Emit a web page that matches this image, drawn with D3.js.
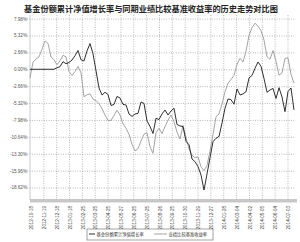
<!DOCTYPE html>
<html><head><meta charset="utf-8">
<script src="https://cdn.jsdelivr.net/npm/d3@7/dist/d3.min.js"></script>
<style>
html,body{margin:0;padding:0;background:#fff;}
svg{display:block;}
</style></head>
<body>
<svg id="c" width="300" height="242"></svg>
<script>
const title = "基金份额累计净值增长率与同期业绩比较基准收益率的历史走势对比图";
const dateLabels = ["2012-10-18","2012-11-19","2012-12-18","2013-01-18","2013-02-25","2013-03-25","2013-04-25","2013-05-27","2013-06-25","2013-07-25","2013-08-26","2013-09-25","2013-10-30","2013-11-29","2013-12-27","2014-01-28","2014-03-04","2014-04-02","2014-05-05","2014-06-04","2014-07-03"];
const yTicks = [7.98, 5.32, 2.66, 0, -2.66, -5.32, -7.98, -10.64, -13.30, -15.96, -18.62];
const seriesNames = ["基金份额累计净值增长率", "业绩比较基准收益率"];
const fundValues = [0,0,0,0,0,0,0,0,0,0.24,0.41,1.20,0.87,1.07,1.46,2.13,2.96,1.50,1.31,2.88,4.05,2.46,-0.24,-2.95,-4.05,-3.62,-3.97,-5.70,-5.54,-4.28,-4.52,-5.53,-5.62,-7.04,-7.43,-7.04,-6.95,-5.15,-5.39,-8.14,-9.01,-10.11,-7.72,-7.92,-7.04,-6.41,-7.20,-6.57,-6.14,-8.69,-8.93,-9.01,-11.34,-11.89,-14.13,-14.55,-15.32,-16.65,-19.01,-16.49,-13.94,-11.40,-10.87,-10.58,-8.46,-6.14,-4.68,-4.79,-5.51,-3.10,-4.05,-3.89,-3.53,-1.37,-0.98,0.16,1.15,0.46,-1.45,-3.62,-3.26,-3.02,-4.60,-2.90,-4.36,-6.68,-3.50,-2.95,-6.41];
const benchValues = [-1.37,1.15,1.62,1.94,3.13,4.46,4.06,1.94,1.51,0.71,1.34,2.19,1.98,-0.38,-0.98,-0.38,0.43,-0.58,-4.32,-4.02,-3.86,-4.68,-4.95,-5.39,-6.21,-7.20,-8.06,-8.05,-7.28,-6.47,-7.20,-8.60,-9.29,-10.25,-11.80,-12.87,-12.52,-11.29,-10.24,-9.97,-12.19,-13.23,-9.97,-9.28,-10.14,-9.04,-8.03,-7.20,-8.22,-9.91,-10.98,-8.87,-10.77,-12.55,-13.55,-13.92,-13.81,-15.36,-15.94,-15.14,-12.90,-10.28,-7.47,-7.04,-5.43,-3.53,-2.19,-1.61,-0.98,0.77,1.73,1.15,2.85,5.31,6.55,7.25,6.79,6.08,4.61,1.97,1.59,2.95,1.28,-0.93,-0.58,1.73,1.78,-0.79,-2.21];

const svg = d3.select("#c");
const L = 30, R = 295, T = 15, B = 200;
const x = d3.scaleLinear().domain([0, fundValues.length - 1]).range([30, 294]);
const y = d3.scaleLinear().domain([-18.62, 7.98]).range([187.5, 18.6]);
const xp = d3.scalePoint().domain(dateLabels).range([31, 288]);

// title
svg.append("text").attr("x", 151).attr("y", 12).attr("text-anchor", "middle")
  .attr("font-family", "Noto Sans CJK SC").attr("font-weight", "bold")
  .attr("font-size", 8.2).attr("fill", "#222").text(title);

// vertical grid
svg.append("g").selectAll("line").data(dateLabels.slice(1)).join("line")
  .attr("x1", d => xp(d)).attr("x2", d => xp(d)).attr("y1", T).attr("y2", B)
  .attr("stroke", "#888").attr("stroke-width", 0.6).attr("stroke-dasharray", "1,1.4");

// y axis with grid
const yAxis = d3.axisLeft(y).tickValues(yTicks).tickSizeInner(-(R - L)).tickSizeOuter(0)
  .tickPadding(5).tickFormat(d => d.toFixed(2) + "%");
const gy = svg.append("g").attr("transform", `translate(${L},0)`).call(yAxis);
gy.select(".domain").remove();
gy.selectAll(".tick line").attr("x1", -3).attr("stroke", "#888").attr("stroke-width", 0.6)
  .attr("stroke-dasharray", "1,1.4");
gy.selectAll(".tick text").attr("font-family", "Liberation Sans, Arial, sans-serif")
  .attr("font-size", 4.6).attr("fill", "#555").attr("x", -3);

svg.append("line").attr("x1", L).attr("x2", L).attr("y1", T).attr("y2", B)
  .attr("stroke", "#bbb").attr("stroke-width", 0.8);

// x axis
const xAxis = d3.axisBottom(xp).tickSize(0).tickPadding(0);
const gx = svg.append("g").attr("transform", `translate(0,${B})`).call(xAxis);
gx.select(".domain").remove();
gx.selectAll(".tick text").attr("font-family", "Liberation Sans, Arial, sans-serif")
  .attr("font-size", 4.6).attr("fill", "#444")
  .attr("transform", "rotate(-90)").attr("text-anchor", "end")
  .attr("x", -6).attr("y", 0).attr("dy", "0.35em");

svg.append("line").attr("x1", L).attr("x2", R + 2).attr("y1", B).attr("y2", B)
  .attr("stroke", "#777").attr("stroke-width", 0.8);
svg.append("line").attr("x1", L).attr("x2", R + 2).attr("y1", B + 1.8).attr("y2", B + 1.8)
  .attr("stroke", "#999").attr("stroke-width", 0.8);

// lines
const line = d3.line().x((d, i) => x(i)).y(d => y(d));
svg.append("path").datum(benchValues).attr("d", line).attr("fill", "none")
  .attr("stroke", "#9a9a9a").attr("stroke-width", 0.9);
svg.append("path").datum(fundValues).attr("d", line).attr("fill", "none")
  .attr("stroke", "#1a1a1a").attr("stroke-width", 0.9);

// legend
const lg = svg.append("g");
lg.append("rect").attr("x", 87).attr("y", 229).attr("width", 126).attr("height", 11)
  .attr("fill", "#fff").attr("stroke", "#666").attr("stroke-width", 0.6);
const items = [{name: seriesNames[0], color: "#1a1a1a", x0: 89, x1: 95, tx: 96.5},
               {name: seriesNames[1], color: "#9a9a9a", x0: 154, x1: 167, tx: 168.5}];
items.forEach(it => {
  lg.append("line").attr("x1", it.x0).attr("x2", it.x1).attr("y1", 234).attr("y2", 234)
    .attr("stroke", it.color).attr("stroke-width", 0.9);
  lg.append("text").attr("x", it.tx).attr("y", 235.6).attr("font-family", "Noto Sans CJK SC")
    .attr("font-size", 4.3).attr("fill", "#333").text(it.name);
});
</script>
</body></html>
